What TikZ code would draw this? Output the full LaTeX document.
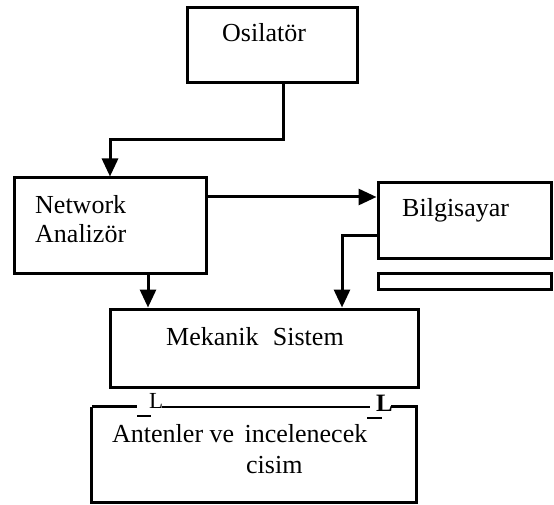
\documentclass[tikz,border=0pt]{standalone}
\usepackage{fontspec}
\setmainfont{Liberation Serif}
\usetikzlibrary{arrows.meta}
\begin{document}
\begin{tikzpicture}[x=1pt,y=-1pt,
  box/.style={draw,line width=3pt,inner sep=0pt,minimum width=#1},
  lbl/.style={anchor=base west,inner sep=0pt,font=\fontsize{26}{31}\selectfont},
  link/.style={line width=3pt,-{Triangle[width=16pt,length=18pt]}},
  wire/.style={line width=3pt}]
\useasboundingbox (0,0) rectangle (554,505);

% blocks
\node[box=170pt,minimum height=75pt] (osc) at (272,45.5) {};
\node[box=192pt,minimum height=95pt] (na) at (110,225.5) {};
\node[box=173pt,minimum height=75pt] (pc) at (464.5,220.5) {};
\node[box=173pt,minimum height=16pt] (bar) at (464.5,281) {};
\node[box=308pt,minimum height=78pt] (mek) at (264,348) {};
\node[inner sep=0pt,minimum width=324pt,minimum height=95pt] (ant) at (254,454.5) {};

% block captions
\node[lbl] (tosc) at (222,42) {Osilatör};
\node[lbl] (tna1) at (35,214) {Network};
\node[lbl] (tna2) at (35,243) {Analizör};
\node[lbl] (tpc) at (402,217) {Bilgisayar};
\node[lbl] (tmek) at (166,345) {Mekanik\hspace{0.55em}Sistem};
\node[lbl] (tant1) at (112,442) {Antenler ve\hspace{0.4em}incelenecek};
\node[lbl] (tant2) at (246,473) {cisim};

% antenna box: three sides, top edge broken by the antenna marks
\draw[wire] (ant.north west) -- (ant.south west) -- (ant.south east) -- (ant.north east) -- ++(-25,0);
\draw[wire] (ant.north west) -- ++(45,0);
\draw[wire,line width=2.2pt] (162,407) -- (370,407);
\node[anchor=base west,inner sep=0pt,font=\fontsize{23}{23}\selectfont] (l1) at (149,408.5) {L};
\node[anchor=base west,inner sep=0pt,font=\fontsize{25}{25}\selectfont\bfseries] (l2) at (376,411.5) {L};
\draw[line width=2pt] (137,416) -- (151,416);
\draw[line width=2.2pt] (367,418) -- (382,418);

% signal paths
\coordinate (b1) at (283,140);
\coordinate (c1) at (0,197);
\coordinate (c2) at (148,0);
\coordinate (c3) at (342,235);
\draw[link] (b1 |- osc.south) -- (b1) -| (na.north);
\draw[link] (c1 -| na.east) -- (c1 -| pc.west);
\draw[link] (c2 |- na.south) -- (c2 |- mek.north);
\draw[link] (c3 -| pc.west) -- (c3) -- (c3 |- mek.north);
\end{tikzpicture}
\end{document}
